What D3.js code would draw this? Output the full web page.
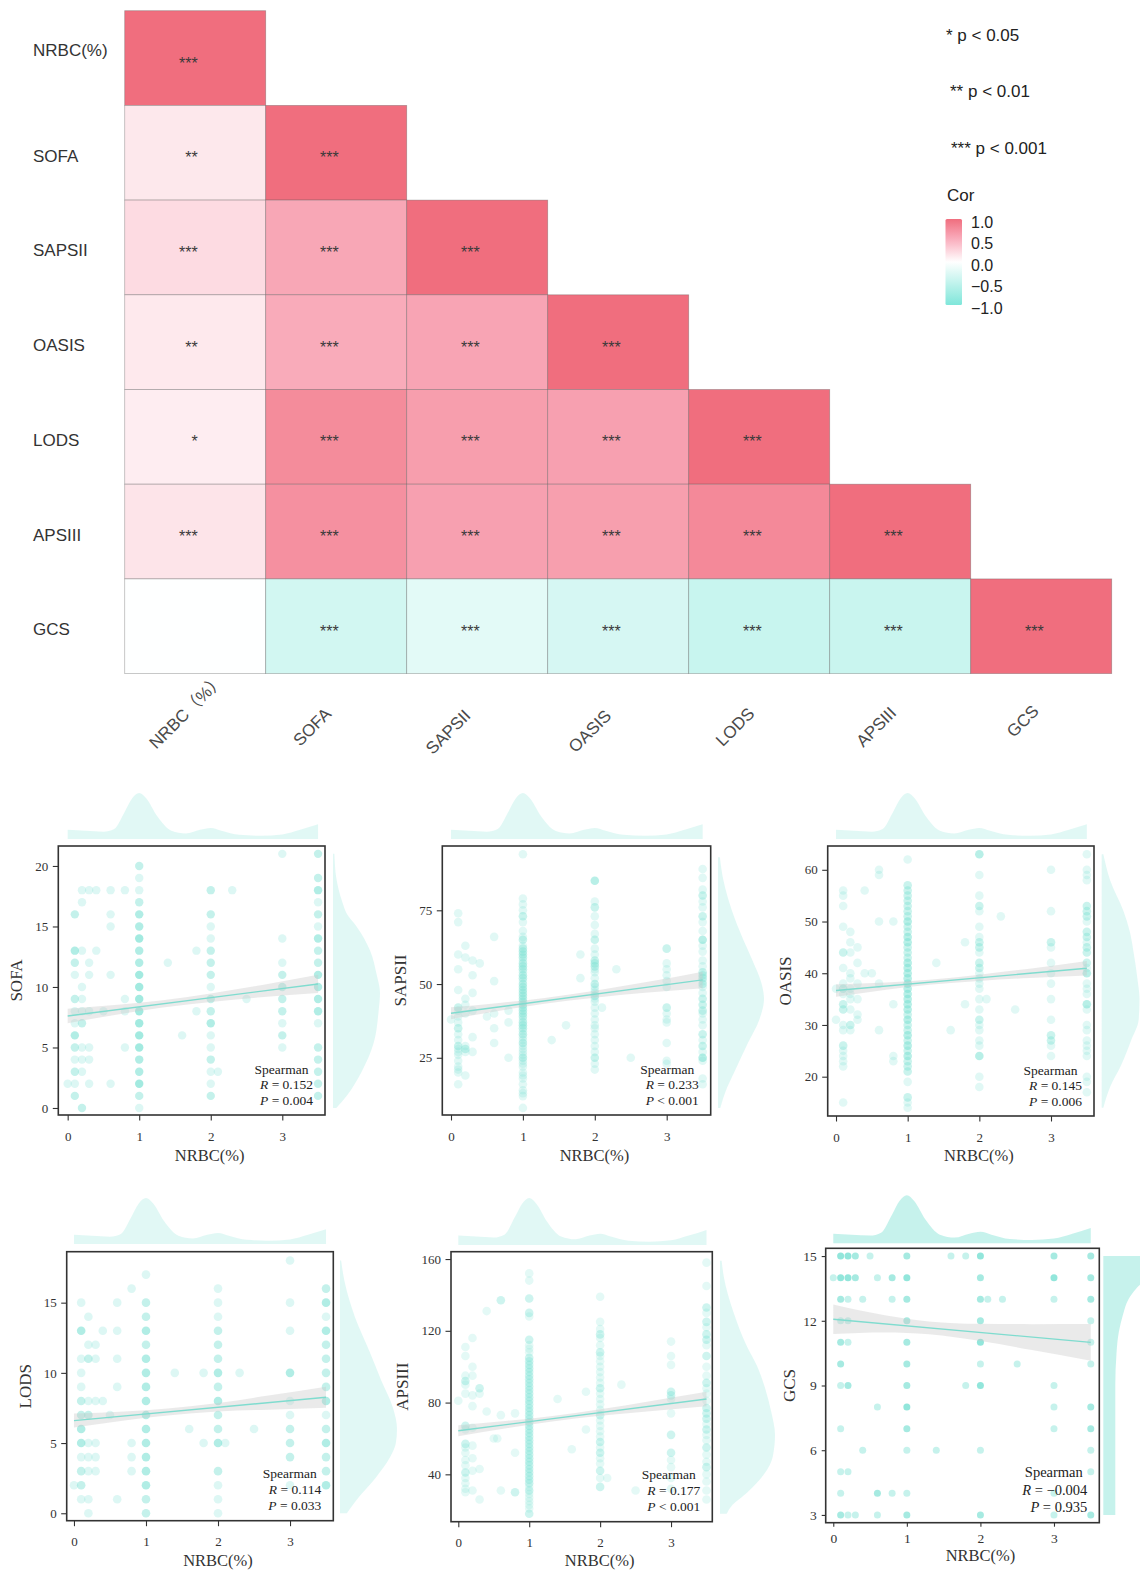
<!DOCTYPE html>
<html>
<head>
<meta charset="utf-8">
<script src="https://cdn.jsdelivr.net/npm/d3@7"></script>
<style>
  body { margin: 0; background: #fff; }
  svg { display: block; }
</style>
</head>
<body>
<svg id="chart" width="1140" height="1572"></svg>
<script>
// ---------------- correlation heatmap data ----------------
const variables = ["NRBC(%)", "SOFA", "SAPSII", "OASIS", "LODS", "APSIII", "GCS"];
const columnLabels = ["NRBC（%）", "SOFA", "SAPSII", "OASIS", "LODS", "APSIII", "GCS"];
// lower triangle (row i, columns 0..i)
const corValues = [
  [1],
  [0.152, 1],
  [0.233, 0.58, 1],
  [0.145, 0.55, 0.60, 1],
  [0.114, 0.78, 0.65, 0.63, 1],
  [0.177, 0.75, 0.63, 0.64, 0.80, 1],
  [-0.004, -0.35, -0.22, -0.32, -0.43, -0.42, 1]
];
const corStars = [
  ["***"],
  ["**", "***"],
  ["***", "***", "***"],
  ["**", "***", "***", "***"],
  ["*", "***", "***", "***", "***"],
  ["***", "***", "***", "***", "***", "***"],
  ["", "***", "***", "***", "***", "***", "***"]
];
const pLegend = ["* p < 0.05", "** p < 0.01", "*** p < 0.001"];
const corTicks = [1, 0.5, 0, -0.5, -1];

// ---------------- scatter data: [NRBC, score, overlapping points] ----------------
const nrbcTicks = [0, 1, 2, 3];
// marginal density of NRBC (relative height)
const nrbcDensity = [
  [0, 0.2], [0.25, 0.18], [0.5, 0.16], [0.65, 0.22], [0.8, 0.6], [0.9, 0.88], [1.0, 1.0],
  [1.1, 0.88], [1.25, 0.5], [1.45, 0.18], [1.65, 0.12], [1.85, 0.2], [2.0, 0.24], [2.15, 0.18],
  [2.4, 0.09], [2.7, 0.07], [3.0, 0.1], [3.25, 0.2], [3.5, 0.32]
];
const ciX = [0, 0.7, 1.3, 2, 2.7, 3.5];

const sofaPoints = [
  [0,2,1],
  [0.1,16,2],[0.1,13,3],[0.1,12,2],[0.1,11,1],[0.1,9,2],[0.1,8,1],[0.1,7,1],[0.1,6,3],[0.1,5,2],[0.1,4,1],[0.1,3,2],[0.1,2,1],[0.1,1,2],
  [0.2,18,1],[0.2,17,1],[0.2,13,1],[0.2,10,1],[0.2,9,1],[0.2,8,1],[0.2,7,2],[0.2,5,1],[0.2,4,1],[0.2,3,1],[0.2,0,2],
  [0.3,18,1],[0.3,12,1],[0.3,11,1],[0.3,8,1],[0.3,5,1],[0.3,4,1],[0.3,2,1],
  [0.4,18,1],[0.4,13,1],[0.5,8,1],
  [0.6,18,1],[0.6,16,1],[0.6,15,1],[0.6,11,1],[0.6,2,1],
  [0.8,18,1],[0.8,9,1],[0.8,8,1],[0.8,5,1],
  [1,20,2],[1,19,1],[1,18,1],[1,17,2],[1,16,3],[1,15,3],[1,14,4],[1,13,3],[1,12,3],[1,11,4],[1,10,4],[1,9,4],[1,8,4],[1,7,4],[1,6,4],[1,5,4],[1,4,3],[1,3,3],[1,2,4],[1,1,2],[1,0,1],
  [1.4,12,1],[1.6,6,1],[1.8,13,1],[1.8,8,1],
  [2,18,2],[2,16,2],[2,15,1],[2,14,1],[2,13,2],[2,12,2],[2,11,2],[2,10,1],[2,9,2],[2,8,2],[2,7,3],[2,6,1],[2,5,1],[2,4,2],[2,3,1],[2,2,1],[2,1,2],
  [2.1,3,1],[2.3,18,1],[2.5,9,1],
  [3,21,1],[3,14,1],[3,12,1],[3,11,2],[3,10,2],[3,9,2],[3,8,2],[3,7,1],[3,6,2],[3,5,1],
  [3.5,21,2],[3.5,19,2],[3.5,18,3],[3.5,17,1],[3.5,16,2],[3.5,15,1],[3.5,14,3],[3.5,13,2],[3.5,12,2],[3.5,11,3],[3.5,10,3],[3.5,9,3],[3.5,8,3],[3.5,7,1],[3.5,5,2],[3.5,4,2],[3.5,3,2],[3.5,2,2],[3.5,1,2]
];
const sofaTicks = [0, 5, 10, 15, 20];
const sofaDensity = [[0,0.07],[1,0.29],[3,0.61],[5.3,0.86],[8,0.97],[9.5,1.0],[11,0.93],[13,0.79],[15,0.5],[16,0.3],[17,0.2],[19,0.07],[21,0.03]];
const sofaFit = [7.6, 10.25];
const sofaCI = [0.6, 0.4, 0.3, 0.35, 0.5, 0.75];

const sapsiiPoints = [
  [0,38,1],
  [0.1,74,1],[0.1,71,1],[0.1,60,1],[0.1,55,1],[0.1,48,1],[0.1,42,2],[0.1,41,1],[0.1,39,1],[0.1,37,1],[0.1,35,2],[0.1,33,1],[0.1,31,1],[0.1,29,2],[0.1,28,1],[0.1,27,1],[0.1,26,1],[0.1,24,1],[0.1,22,1],[0.1,21,1],[0.1,20,1],[0.1,16,1],
  [0.2,63,1],[0.2,59,1],[0.2,45,1],[0.2,43,1],[0.2,40,1],[0.2,29,1],[0.2,28,2],[0.2,27,1],[0.2,19,1],
  [0.3,58,1],[0.3,53,1],[0.3,47,1],[0.3,41,1],[0.3,32,1],[0.3,27,1],
  [0.4,57,1],[0.5,39,1],
  [0.6,66,1],[0.6,51,1],[0.6,40,1],[0.6,35,1],[0.6,30,1],
  [0.8,41,1],[0.8,37,1],[0.8,25,1],
  [1,94,1],[1,79,1],[1,77,1],[1,75,1],[1,73,2],[1,71,1],[1,68,1],[1,66,1],[1,65,2],[1,63,1],[1,62,2],[1,61,2],[1,60,2],[1,59,2],[1,58,1],[1,57,2],[1,56,2],[1,55,2],[1,54,1],[1,53,2],[1,52,2],[1,51,1],[1,50,2],[1,49,2],[1,48,2],[1,47,2],[1,46,2],[1,45,2],[1,44,2],[1,43,2],[1,42,2],[1,41,2],[1,40,2],[1,39,2],[1,38,1],[1,37,2],[1,36,2],[1,35,2],[1,34,1],[1,33,2],[1,32,1],[1,31,1],[1,30,2],[1,29,1],[1,28,1],[1,27,1],[1,26,1],[1,25,2],[1,24,1],[1,23,1],[1,22,1],[1,20,1],[1,19,1],[1,18,1],[1,16,1],[1,14,1],[1,13,1],[1,12,1],[1,8,1],
  [1.4,31,1],[1.6,36,1],[1.8,60,1],[1.8,52,1],
  [2,85,3],[2,78,1],[2,76,2],[2,73,1],[2,70,1],[2,67,1],[2,65,2],[2,62,1],[2,60,1],[2,58,2],[2,57,2],[2,56,2],[2,55,1],[2,54,1],[2,52,1],[2,50,2],[2,49,1],[2,48,1],[2,47,1],[2,46,2],[2,45,1],[2,44,1],[2,42,1],[2,40,1],[2,38,1],[2,36,1],[2,35,1],[2,33,1],[2,31,1],[2,29,1],[2,27,1],[2,25,2],[2,23,1],[2,21,1],
  [2.1,42,1],[2.3,55,1],[2.5,25,1],
  [3,62,2],[3,57,1],[3,55,1],[3,53,1],[3,51,1],[3,49,1],[3,42,2],[3,40,1],[3,38,1],[3,37,1],[3,30,1],[3,24,1],[3,23,1],
  [3.5,89,1],[3.5,86,1],[3.5,82,1],[3.5,80,2],[3.5,78,1],[3.5,76,1],[3.5,73,2],[3.5,71,1],[3.5,68,1],[3.5,65,3],[3.5,63,1],[3.5,61,1],[3.5,58,1],[3.5,56,1],[3.5,54,2],[3.5,53,2],[3.5,52,2],[3.5,51,1],[3.5,50,2],[3.5,49,1],[3.5,47,1],[3.5,45,2],[3.5,43,2],[3.5,41,2],[3.5,40,1],[3.5,38,1],[3.5,36,1],[3.5,33,2],[3.5,31,1],[3.5,29,2],[3.5,27,1],[3.5,25,3],[3.5,24,1],[3.5,18,1],[3.5,16,1]
];
const sapsiiTicks = [25, 50, 75];
const sapsiiDensity = [[8,0.05],[15,0.2],[20,0.35],[30,0.65],[38,0.9],[45,1.0],[50,0.95],[58,0.75],[65,0.55],[75,0.3],[85,0.12],[93,0.04]];
const sapsiiFit = [40.1, 51.4];
const sapsiiCI = [2.0, 1.3, 1.0, 1.2, 1.8, 2.8];

const oasisPoints = [
  [0,37,1],[0,31,1],
  [0.1,56,1],[0.1,55,1],[0.1,53,1],[0.1,49,1],[0.1,44,2],[0.1,41,1],[0.1,38,1],[0.1,37,2],[0.1,36,1],[0.1,34,2],[0.1,33,2],[0.1,30,1],[0.1,29,1],[0.1,26,2],[0.1,25,1],[0.1,24,1],[0.1,23,1],[0.1,22,1],[0.1,15,1],
  [0.2,48,1],[0.2,46,1],[0.2,44,1],[0.2,40,1],[0.2,39,1],[0.2,37,1],[0.2,36,1],[0.2,35,1],[0.2,33,1],[0.2,30,2],[0.2,29,1],
  [0.3,45,1],[0.3,42,1],[0.3,38,1],[0.3,35,1],[0.3,32,1],[0.3,31,1],
  [0.4,56,1],[0.4,40,1],[0.5,40,1],
  [0.6,60,1],[0.6,59,1],[0.6,50,1],[0.6,38,1],[0.6,29,1],
  [0.8,50,1],[0.8,34,1],[0.8,24,1],[0.8,23,1],
  [1,62,1],[1,57,2],[1,56,2],[1,55,2],[1,54,2],[1,53,2],[1,52,2],[1,51,2],[1,50,3],[1,49,2],[1,48,2],[1,47,3],[1,46,3],[1,45,2],[1,44,2],[1,43,2],[1,42,3],[1,41,3],[1,40,3],[1,39,3],[1,38,3],[1,37,3],[1,36,3],[1,35,3],[1,34,3],[1,33,3],[1,32,2],[1,31,3],[1,30,2],[1,29,2],[1,28,3],[1,27,2],[1,26,3],[1,25,2],[1,24,3],[1,23,2],[1,22,2],[1,21,2],[1,19,1],[1,16,2],[1,15,1],[1,14,1],
  [1.4,42,1],[1.6,29,1],[1.8,46,1],[1.8,34,1],
  [2,63,3],[2,59,1],[2,55,1],[2,53,2],[2,52,1],[2,49,1],[2,47,1],[2,46,2],[2,45,2],[2,44,1],[2,42,2],[2,41,2],[2,40,1],[2,39,1],[2,38,1],[2,37,1],[2,35,1],[2,33,1],[2,31,2],[2,30,1],[2,29,1],[2,27,1],[2,26,1],[2,24,3],[2,20,1],[2,18,1],
  [2.1,35,1],[2.3,51,1],[2.5,33,1],
  [3,60,1],[3,52,1],[3,46,2],[3,45,1],[3,42,1],[3,40,1],[3,38,1],[3,35,1],[3,31,1],[3,28,2],[3,27,2],[3,26,1],[3,24,1],
  [3.5,63,1],[3.5,60,1],[3.5,59,1],[3.5,58,1],[3.5,53,2],[3.5,52,2],[3.5,51,2],[3.5,50,1],[3.5,48,2],[3.5,47,2],[3.5,46,1],[3.5,45,2],[3.5,44,2],[3.5,42,2],[3.5,41,1],[3.5,40,3],[3.5,38,1],[3.5,37,1],[3.5,36,1],[3.5,34,3],[3.5,33,1],[3.5,30,1],[3.5,29,1],[3.5,27,1],[3.5,26,1],[3.5,25,1],[3.5,24,1],[3.5,20,1],[3.5,19,1],[3.5,17,1]
];
const oasisTicks = [20, 30, 40, 50, 60];
const oasisDensity = [[14,0.04],[18,0.2],[22,0.45],[27,0.7],[31,0.88],[35,0.9],[39,0.85],[44,0.76],[48,0.67],[52,0.52],[58,0.2],[63,0.04]];
const oasisFit = [36.65, 40.97];
const oasisCI = [1.2, 0.7, 0.5, 0.6, 0.9, 1.4];

const lodsPoints = [
  [0,2,1],
  [0.1,15,1],[0.1,13,3],[0.1,11,1],[0.1,10,1],[0.1,9,1],[0.1,8,2],[0.1,7,2],[0.1,6,3],[0.1,5,3],[0.1,4,1],[0.1,3,2],[0.1,2,2],[0.1,1,1],
  [0.2,14,1],[0.2,12,1],[0.2,11,2],[0.2,8,1],[0.2,7,2],[0.2,5,1],[0.2,4,1],[0.2,3,1],[0.2,1,1],[0.2,0,1],
  [0.3,12,1],[0.3,11,1],[0.3,8,1],[0.3,5,1],[0.3,4,1],[0.3,3,1],
  [0.4,13,1],[0.4,8,1],[0.5,7,1],
  [0.6,15,1],[0.6,13,1],[0.6,11,1],[0.6,9,1],[0.6,1,1],
  [0.8,16,1],[0.8,5,1],[0.8,4,1],[0.8,3,1],
  [1,17,1],[1,15,2],[1,14,2],[1,13,3],[1,12,2],[1,11,3],[1,10,3],[1,9,3],[1,8,3],[1,7,3],[1,6,3],[1,5,3],[1,4,3],[1,3,3],[1,2,3],[1,1,2],[1,0,2],
  [1.4,10,1],[1.6,6,1],[1.8,10,1],[1.8,5,1],
  [2,16,1],[2,15,1],[2,14,1],[2,13,2],[2,12,2],[2,11,2],[2,10,3],[2,9,2],[2,8,3],[2,7,2],[2,6,2],[2,5,3],[2,3,2],[2,2,1],[2,1,1],[2,0,1],
  [2.1,5,1],[2.3,10,1],[2.5,6,1],
  [3,18,1],[3,15,1],[3,13,1],[3,10,3],[3,8,1],[3,7,1],[3,6,2],[3,5,2],[3,4,2],[3,2,1],
  [3.5,16,2],[3.5,15,3],[3.5,14,1],[3.5,13,3],[3.5,12,2],[3.5,11,2],[3.5,10,2],[3.5,9,2],[3.5,8,3],[3.5,7,1],[3.5,6,2],[3.5,5,3],[3.5,4,2],[3.5,3,2],[3.5,2,3]
];
const lodsTicks = [0, 5, 10, 15];
const lodsDensity = [[0,0.12],[1,0.3],[2.5,0.62],[4,0.88],[5,0.98],[6,1.0],[7.5,0.93],[9.5,0.72],[11.5,0.52],[14,0.26],[16.5,0.08],[18,0.02]];
const lodsFit = [6.6, 8.26];
const lodsCI = [0.5, 0.32, 0.25, 0.3, 0.5, 0.75];

const apsiiiPoints = [
  [0,81,1],
  [0.1,111,1],[0.1,106,1],[0.1,95,1],[0.1,92,2],[0.1,90,1],[0.1,85,1],[0.1,67,2],[0.1,65,1],[0.1,57,2],[0.1,55,1],[0.1,52,1],[0.1,48,1],[0.1,45,1],[0.1,41,2],[0.1,38,1],[0.1,35,1],[0.1,32,1],[0.1,30,1],
  [0.2,116,1],[0.2,100,1],[0.2,95,1],[0.2,84,1],[0.2,78,1],[0.2,66,1],[0.2,56,1],[0.2,49,1],[0.2,42,1],[0.2,31,1],
  [0.3,88,2],[0.3,85,1],[0.3,43,1],[0.3,26,1],
  [0.4,131,1],[0.4,75,1],[0.5,60,1],[0.55,60,1],
  [0.6,137,2],[0.6,73,1],[0.6,31,1],
  [0.8,74,1],[0.8,52,1],[0.8,30,2],
  [1,152,1],[1,148,1],[1,138,2],[1,130,2],[1,128,1],[1,115,2],[1,112,1],[1,110,1],[1,108,1],[1,105,2],[1,103,2],[1,101,2],[1,99,2],[1,97,2],[1,95,2],[1,93,2],[1,91,2],[1,89,2],[1,87,2],[1,85,2],[1,83,2],[1,81,2],[1,79,2],[1,77,2],[1,75,2],[1,73,2],[1,71,2],[1,69,2],[1,67,2],[1,65,2],[1,63,2],[1,61,2],[1,59,2],[1,57,2],[1,55,2],[1,53,2],[1,51,2],[1,49,2],[1,47,2],[1,45,2],[1,43,2],[1,41,2],[1,39,2],[1,37,2],[1,35,2],[1,33,1],[1,31,2],[1,29,1],[1,27,1],[1,25,1],[1,23,1],[1,21,1],[1,18,2],
  [1.4,82,1],[1.6,54,1],[1.8,86,1],[1.8,65,1],
  [2,139,1],[2,125,1],[2,121,1],[2,118,2],[2,116,1],[2,112,1],[2,108,2],[2,106,1],[2,103,1],[2,100,1],[2,97,1],[2,94,1],[2,91,1],[2,88,2],[2,85,1],[2,82,1],[2,79,1],[2,76,1],[2,73,2],[2,70,1],[2,67,1],[2,64,1],[2,61,1],[2,58,2],[2,55,1],[2,52,2],[2,49,1],[2,46,1],[2,42,2],[2,38,1],[2,33,2],
  [2.1,38,1],[2.3,90,1],[2.5,31,1],
  [3,114,1],[3,106,1],[3,101,1],[3,86,2],[3,84,2],[3,82,1],[3,74,1],[3,62,2],[3,52,2],[3,48,1],[3,44,1],[3,38,1],[3,32,1],
  [3.5,158,1],[3.5,145,1],[3.5,133,2],[3.5,130,1],[3.5,125,2],[3.5,122,1],[3.5,118,2],[3.5,115,2],[3.5,112,1],[3.5,106,2],[3.5,100,1],[3.5,95,1],[3.5,91,2],[3.5,88,1],[3.5,85,1],[3.5,81,1],[3.5,77,2],[3.5,74,2],[3.5,71,2],[3.5,68,1],[3.5,65,2],[3.5,62,1],[3.5,59,1],[3.5,55,2],[3.5,51,1],[3.5,47,1],[3.5,44,2],[3.5,40,1],[3.5,36,1],[3.5,31,1],[3.5,26,1]
];
const apsiiiTicks = [40, 80, 120, 160];
const apsiiiDensity = [[18,0.12],[22,0.2],[30,0.5],[40,0.8],[50,0.96],[62,1.0],[75,0.93],[88,0.82],[100,0.68],[112,0.48],[130,0.25],[150,0.07],[159,0.03]];
const apsiiiFit = [64.3, 82];
const apsiiiCI = [3.0, 2.0, 1.5, 1.8, 2.8, 4.0];

const gcsPoints = [
  [0,14,1],
  [0.1,15,3],[0.1,14,3],[0.1,13,2],[0.1,12,1],[0.1,11,2],[0.1,10,2],[0.1,9,1],[0.1,7,1],[0.1,5,1],[0.1,4,1],[0.1,3,2],
  [0.2,15,3],[0.2,14,3],[0.2,13,1],[0.2,12,1],[0.2,11,1],[0.2,9,2],[0.2,5,1],[0.2,3,1],
  [0.3,15,2],[0.3,14,2],[0.3,3,1],
  [0.4,13,1],[0.4,6,1],[0.5,15,1],
  [0.6,14,1],[0.6,8,1],[0.6,4,2],[0.6,3,1],
  [0.8,14,2],[0.8,13,1],[0.8,4,1],
  [1,15,2],[1,14,3],[1,13,2],[1,12,2],[1,11,2],[1,10,2],[1,9,2],[1,8,3],[1,7,2],[1,6,1],[1,4,1],[1,3,2],
  [1.4,6,1],[1.6,15,1],[1.8,15,1],[1.8,9,1],
  [2,15,3],[2,14,2],[2,13,2],[2,12,2],[2,11,3],[2,10,1],[2,9,3],[2,6,1],[2,3,2],
  [2.1,13,1],[2.3,13,1],[2.5,10,1],
  [3,15,2],[3,14,3],[3,13,1],[3,9,1],[3,8,1],[3,7,1],[3,4,1],[3,3,1],
  [3.5,15,2],[3.5,14,2],[3.5,13,2],[3.5,12,1],[3.5,11,1],[3.5,10,1],[3.5,8,2],[3.5,7,2],[3.5,6,1],[3.5,5,1],[3.5,3,2]
];
const gcsTicks = [3, 6, 9, 12, 15];
const gcsDensity = [[3,0.2],[5,0.2],[7,0.2],[9,0.2],[10.5,0.22],[11.5,0.26],[12.3,0.33],[13,0.42],[13.5,0.55],[14,0.75],[14.5,0.95],[15,1.0]];
const gcsFit = [12.07, 11.0];
const gcsCI = [0.68, 0.4, 0.3, 0.4, 0.6, 0.85];

const scoreNames = ["SOFA", "SAPSII", "OASIS", "LODS", "APSIII", "GCS"];
const spearmanR = ["0.152", "0.233", "0.145", "0.114", "0.177", "\u22120.004"];
const spearmanP = ["= 0.004", "< 0.001", "= 0.006", "= 0.033", "< 0.001", "= 0.935"];

// ---------------- drawing ----------------
const svg = d3.select("#chart");
svg.append("rect").attr("width", 1140).attr("height", 1572).attr("fill", "#fff");

const SANS = "'Liberation Sans', Arial, Helvetica, sans-serif";
const SERIF = "'Liberation Serif', 'Times New Roman', serif";
const CJK = "'Liberation Sans', 'Noto Sans CJK SC', sans-serif";

// diverging fill: cyan (-1) → white (0) → rose (+1)
const heatColor = d3.scaleLinear().domain([-1, -0.5, 0, 0.5, 1])
  .range(["#7fe6da", "#bff3ec", "#ffffff", "#fab2c1", "#f06e7e"]);
const heatX = d3.scaleBand().domain(variables).range([124.7, 1111.7]);
const heatY = d3.scaleBand().domain(variables).range([10.7, 673.6]);

// label placement tweaks (vertical nudge of row labels, shift along rotated column labels)
const rowLabelNudge = [-8, 3, 3, 3, 3, 3, 3];
const colLabelShift = [22, 0, -7, -6, 0, 0, 8];

const cells = [];
corValues.forEach((row, i) => row.forEach((v, j) => {
  cells.push({ row: variables[i], col: variables[j], v, stars: corStars[i][j] });
}));

const heat = svg.append("g");
heat.selectAll("rect.cell").data(cells).join("rect")
  .attr("class", "cell")
  .attr("x", d => heatX(d.col))
  .attr("y", d => heatY(d.row))
  .attr("width", heatX.bandwidth())
  .attr("height", heatY.bandwidth())
  .attr("fill", d => heatColor(d.v))
  .attr("stroke", "rgba(90,90,90,0.42)")
  .attr("stroke-width", 0.8);

heat.selectAll("text.star").data(cells.filter(d => d.stars)).join("text")
  .attr("class", "star")
  .attr("x", d => heatX(d.col) + heatX.bandwidth() / 2 + 2.5)
  .attr("y", d => heatY(d.row) + heatY.bandwidth() / 2 + 10.6)
  .attr("text-anchor", "end")
  .attr("font-family", SANS)
  .attr("font-size", 16)
  .attr("fill", "#3a3a3a")
  .text(d => d.stars);

// row labels
heat.selectAll("text.rowlab").data(variables).join("text")
  .attr("class", "rowlab")
  .attr("x", 33)
  .attr("y", (d, i) => heatY(d) + heatY.bandwidth() / 2 + rowLabelNudge[i])
  .attr("dy", "0.35em")
  .attr("font-family", SANS)
  .attr("font-size", 17)
  .attr("fill", "#333")
  .text(d => d);

// column labels, rotated
heat.selectAll("text.collab").data(variables).join("text")
  .attr("class", "collab")
  .attr("transform", d => `translate(${heatX(d) + heatX.bandwidth() / 2 - 20},731) rotate(-45)`)
  .attr("dx", (d, i) => colLabelShift[i])
  .attr("text-anchor", "middle")
  .attr("font-family", CJK)
  .attr("font-size", 17)
  .attr("fill", "#4a4a4a")
  .text((d, i) => columnLabels[i]);

// significance legend
const legendY = [35, 91.5, 148];
const legendX = [946, 950, 951];
svg.selectAll("text.plegend").data(pLegend).join("text")
  .attr("class", "plegend")
  .attr("x", (d, i) => legendX[i])
  .attr("y", (d, i) => legendY[i])
  .attr("dy", "0.35em")
  .attr("font-family", SANS)
  .attr("font-size", 17)
  .attr("fill", "#222")
  .text(d => d);

svg.append("text").attr("x", 947).attr("y", 195).attr("dy", "0.35em")
  .attr("font-family", SANS).attr("font-size", 17).attr("fill", "#222").text("Cor");

// colour bar
const defs = svg.append("defs");
const grad = defs.append("linearGradient").attr("id", "corGrad")
  .attr("x1", 0).attr("y1", 0).attr("x2", 0).attr("y2", 1);
d3.range(0, 1.0001, 0.1).forEach(t => {
  grad.append("stop").attr("offset", `${t * 100}%`).attr("stop-color", heatColor(1 - 2 * t));
});
const barScale = d3.scaleLinear().domain([1, -1]).range([219, 305]);
svg.append("rect").attr("x", 945.5).attr("y", 219).attr("width", 16.5).attr("height", 86)
  .attr("rx", 1.5).attr("fill", "url(#corGrad)");
svg.selectAll("text.bartick").data(corTicks).join("text")
  .attr("class", "bartick")
  .attr("x", 971)
  .attr("y", d => barScale(d) + 3)
  .attr("dy", "0.35em")
  .attr("font-family", SANS)
  .attr("font-size", 16)
  .attr("fill", "#222")
  .text(d => (d < 0 ? "\u2212" : "") + Math.abs(d).toFixed(1));

// ---------------- scatter panels ----------------
const pointColor = "#78e0d2";
const panelLayout = [
  { box: [58.3, 846, 325, 1115], xDom: [-0.131, 3.597], yDom: [-0.58, 21.65], topBase: 839, topH: 46, rightBase: 333, rightW: 47,
    yTitleX: 16, xTitleY: 1155, tick: 5.5, xPad: 11, yPad: 4.5, r: 4.2, alpha: 0.25, dens: 0.22, tickFont: 13, statFont: 13.5, statGap: 15.5 },
  { box: [442.3, 846, 710.7, 1115], xDom: [-0.121, 3.612], yDom: [5.6, 96.8], topBase: 839, topH: 46, rightBase: 718, rightW: 46,
    yTitleX: 400, xTitleY: 1155, tick: 5.5, xPad: 11, yPad: 4.5, r: 4.3, alpha: 0.22, dens: 0.22, tickFont: 13, statFont: 13.5, statGap: 15.5 },
  { box: [827.7, 846, 1094, 1116], xDom: [-0.116, 3.60], yDom: [12.4, 64.6], topBase: 839, topH: 46, rightBase: 1101.7, rightW: 42,
    yTitleX: 785, xTitleY: 1155, tick: 5.5, xPad: 11, yPad: 4.5, r: 4.3, alpha: 0.22, dens: 0.22, tickFont: 13, statFont: 13.5, statGap: 15.5 },
  { box: [66.7, 1251.7, 333.3, 1520.7], xDom: [-0.101, 3.601], yDom: [-0.53, 18.63], topBase: 1244, topH: 46, rightBase: 340, rightW: 57,
    yTitleX: 25, xTitleY: 1560, tick: 5.5, xPad: 11, yPad: 4.5, r: 4.3, alpha: 0.25, dens: 0.22, tickFont: 13, statFont: 13.5, statGap: 16 },
  { box: [451, 1251.7, 712.3, 1521.7], xDom: [-0.103, 3.582], yDom: [13.6, 164.1], topBase: 1245, topH: 47, rightBase: 720, rightW: 55,
    yTitleX: 401.7, xTitleY: 1560, tick: 5.5, xPad: 11, yPad: 4.5, r: 4.3, alpha: 0.2, dens: 0.22, tickFont: 13, statFont: 13.5, statGap: 16 },
  { box: [825.7, 1248.3, 1099.3, 1522.7], xDom: [-0.103, 3.616], yDom: [2.64, 15.36], topBase: 1243.3, topH: 48, rightBase: 1103.3, rightW: 60,
    yTitleX: 789, xTitleY: 1555, tick: 4, xPad: 6.5, yPad: 5, r: 3.5, alpha: 0.42, dens: 0.42, tickFont: 13.5, statFont: 14.5, statGap: 17.5 }
];

const panelData = [
  { points: sofaPoints, ticks: sofaTicks, density: sofaDensity, fit: sofaFit, ci: sofaCI },
  { points: sapsiiPoints, ticks: sapsiiTicks, density: sapsiiDensity, fit: sapsiiFit, ci: sapsiiCI },
  { points: oasisPoints, ticks: oasisTicks, density: oasisDensity, fit: oasisFit, ci: oasisCI },
  { points: lodsPoints, ticks: lodsTicks, density: lodsDensity, fit: lodsFit, ci: lodsCI },
  { points: apsiiiPoints, ticks: apsiiiTicks, density: apsiiiDensity, fit: apsiiiFit, ci: apsiiiCI },
  { points: gcsPoints, ticks: gcsTicks, density: gcsDensity, fit: gcsFit, ci: gcsCI }
];

function drawPanel(L, D, name, rText, pText) {
  const g = svg.append("g");
  const [left, top, right, bottom] = L.box;
  const xs = d3.scaleLinear().domain(L.xDom).range([left, right]);
  const ys = d3.scaleLinear().domain(L.yDom).range([bottom, top]);

  // marginal density of NRBC on top
  g.append("path").datum(nrbcDensity)
    .attr("d", d3.area().curve(d3.curveMonotoneX)
      .x(d => xs(d[0])).y0(L.topBase).y1(d => L.topBase - L.topH * d[1]))
    .attr("fill", pointColor).attr("fill-opacity", L.dens);

  // marginal density of the score on the right
  const dens = D.density.slice().sort((a, b) => b[0] - a[0]);
  g.append("path").datum(dens)
    .attr("d", d3.area().curve(d3.curveMonotoneY)
      .y(d => ys(d[0])).x0(L.rightBase).x1(d => L.rightBase + L.rightW * d[1]))
    .attr("fill", pointColor).attr("fill-opacity", L.dens);

  // points
  g.append("g").selectAll("circle").data(D.points).join("circle")
    .attr("cx", d => xs(d[0]))
    .attr("cy", d => ys(d[1]))
    .attr("r", L.r)
    .attr("fill", pointColor)
    .attr("fill-opacity", d => 1 - Math.pow(1 - L.alpha, d[2]));

  // linear fit with confidence band
  const fitAt = x => D.fit[0] + (D.fit[1] - D.fit[0]) * x / 3.5;
  const band = ciX.map((x, i) => [x, fitAt(x) - D.ci[i], fitAt(x) + D.ci[i]]);
  g.append("path").datum(band)
    .attr("d", d3.area().curve(d3.curveMonotoneX)
      .x(d => xs(d[0])).y0(d => ys(d[1])).y1(d => ys(d[2])))
    .attr("fill", "#c9c9c9").attr("fill-opacity", 0.38);
  g.append("path").datum([[0, D.fit[0]], [3.5, D.fit[1]]])
    .attr("d", d3.line().x(d => xs(d[0])).y(d => ys(d[1])))
    .attr("stroke", "#7fdccf").attr("stroke-width", 1.4).attr("fill", "none");

  // axes
  const xAxis = g.append("g").attr("transform", `translate(0,${bottom})`)
    .call(d3.axisBottom(xs).tickValues(nrbcTicks).tickSize(L.tick).tickPadding(L.xPad).tickFormat(d3.format("d")));
  const yAxis = g.append("g").attr("transform", `translate(${left},0)`)
    .call(d3.axisLeft(ys).tickValues(D.ticks).tickSize(L.tick).tickPadding(L.yPad).tickFormat(d3.format("d")));
  [xAxis, yAxis].forEach(a => {
    a.select(".domain").remove();
    a.selectAll(".tick line").attr("stroke", "#333").attr("stroke-width", 1.1);
    a.selectAll(".tick text").attr("font-family", SERIF).attr("font-size", L.tickFont).attr("fill", "#333");
  });

  // frame
  g.append("rect").attr("x", left).attr("y", top).attr("width", right - left).attr("height", bottom - top)
    .attr("fill", "none").attr("stroke", "#333").attr("stroke-width", 1.6);

  // axis titles
  g.append("text")
    .attr("transform", `translate(${L.yTitleX},${(top + bottom) / 2}) rotate(-90)`)
    .attr("text-anchor", "middle").attr("dy", "0.35em")
    .attr("font-family", SERIF).attr("font-size", 17).attr("fill", "#333")
    .text(name);
  g.append("text")
    .attr("x", (left + right) / 2 + 18).attr("y", L.xTitleY)
    .attr("text-anchor", "middle").attr("dy", "0.35em")
    .attr("font-family", SERIF).attr("font-size", 16.5).attr("fill", "#333")
    .text("NRBC(%)");

  // Spearman statistics
  const sx = right - 12;
  const base = bottom - 10.5;
  const stat = g.append("g").attr("font-family", SERIF).attr("font-size", L.statFont).attr("fill", "#222").attr("text-anchor", "end");
  stat.append("text").attr("x", sx - 4.5).attr("y", base - 2 * L.statGap).text("Spearman");
  const tr = stat.append("text").attr("x", sx).attr("y", base - L.statGap);
  tr.append("tspan").attr("font-style", "italic").text("R");
  tr.append("tspan").text(" = " + rText);
  const tp = stat.append("text").attr("x", sx).attr("y", base);
  tp.append("tspan").attr("font-style", "italic").text("P");
  tp.append("tspan").text(" " + pText);
}

panelLayout.forEach((L, i) => drawPanel(L, panelData[i], scoreNames[i], spearmanR[i], spearmanP[i]));
</script>
</body>
</html>
